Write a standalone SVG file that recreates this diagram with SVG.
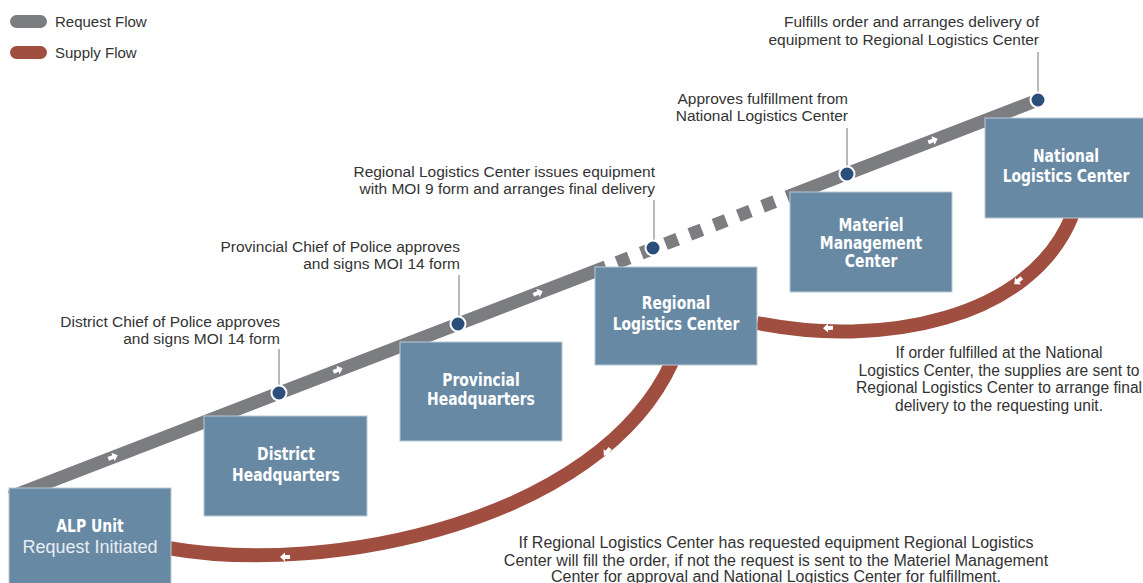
<svg xmlns="http://www.w3.org/2000/svg" width="1143" height="583" viewBox="0 0 1143 583">
  <style>
    .box { fill: #6889a4; stroke: #b9cad8; stroke-width: 1; }
    .title { font-family: "Liberation Sans Narrow", "DejaVu Sans Condensed", "Liberation Sans", sans-serif; font-weight: bold; font-size: 17px; fill: #ffffff; text-anchor: middle; }
    .sub { font-family: "Liberation Sans", Arial, sans-serif; font-size: 18px; fill: #e8eef3; text-anchor: middle; }
    .note { font-family: "Liberation Sans", Arial, sans-serif; font-size: 15.5px; fill: #333333; }
    .para { font-family: "Liberation Sans", Arial, sans-serif; font-size: 16px; fill: #333333; text-anchor: middle; }
    .para.small { font-size: 15.6px; }
    .right { text-anchor: end; }
    .legend { font-family: "Liberation Sans", Arial, sans-serif; font-size: 15px; fill: #333333; }
    .request { fill: none; stroke: #7c7d81; stroke-width: 13; }
    .supply { fill: none; stroke: #a04e40; stroke-width: 14; }
    .leader { stroke: #8a8a8a; stroke-width: 1.2; }
    .dot { fill: #2b4f7a; stroke: #ffffff; stroke-width: 2; }
    .tick { fill: #ffffff; }
  </style>
  <defs>
    <!-- small block arrow pointing along +x, centred on the origin -->
    <polygon id="flow-arrow" points="-5,-2 0,-2 0,-4.5 5,0 0,4.5 0,2 -5,2"/>
  </defs>

  <!-- legend -->
  <g id="legend">
    <rect x="10" y="15" width="37" height="13" rx="6.5" fill="#7c7d81"/>
    <text class="legend" x="55" y="27">Request Flow</text>
    <rect x="10" y="46" width="37" height="13" rx="6.5" fill="#a04e40"/>
    <text class="legend" x="55" y="58">Supply Flow</text>
  </g>

  <!-- flow bands -->
  <g id="connectors">
    <path class="request" d="M10,497 L606,266.9"/>
    <path class="request" d="M617,262.5 L786,197.3" stroke-dasharray="13 13"/>
    <path class="request" d="M787,196.9 L1038,100"/>
    <path class="supply" d="M168,548 C330,577 600,520 672,362"/>
    <path class="supply" d="M757,323 C880,348 1030,320 1072,216"/>
    <!-- direction marks on the request band -->
    <use href="#flow-arrow" class="tick" transform="translate(113,457) rotate(-21.1)"/>
    <use href="#flow-arrow" class="tick" transform="translate(338,370) rotate(-21.1)"/>
    <use href="#flow-arrow" class="tick" transform="translate(538,293) rotate(-21.1)"/>
    <use href="#flow-arrow" class="tick" transform="translate(933,140.5) rotate(-21.1)"/>
    <!-- direction marks on the supply bands -->
    <use href="#flow-arrow" class="tick" transform="translate(285,557) rotate(180)"/>
    <use href="#flow-arrow" class="tick" transform="translate(607,452) rotate(130)"/>
    <use href="#flow-arrow" class="tick" transform="translate(828,328) rotate(178)"/>
    <use href="#flow-arrow" class="tick" transform="translate(1018,281) rotate(140)"/>
  </g>

  <!-- nodes -->
  <g id="alp-unit">
    <rect class="box" x="9" y="488" width="162" height="110"/>
    <text class="title" transform="translate(90,532) scale(0.91,1)">ALP Unit</text>
    <text class="sub" x="90" y="553">Request Initiated</text>
  </g>
  <g id="district-hq">
    <rect class="box" x="204" y="416" width="163" height="100"/>
    <text class="title" transform="translate(286,460) scale(0.91,1)">District</text>
    <text class="title" transform="translate(286,481) scale(0.91,1)">Headquarters</text>
  </g>
  <g id="provincial-hq">
    <rect class="box" x="400" y="342" width="162" height="99"/>
    <text class="title" transform="translate(481,386) scale(0.91,1)">Provincial</text>
    <text class="title" transform="translate(481,405) scale(0.91,1)">Headquarters</text>
  </g>
  <g id="regional-lc">
    <rect class="box" x="595" y="267" width="162" height="98"/>
    <text class="title" transform="translate(676,309) scale(0.91,1)">Regional</text>
    <text class="title" transform="translate(676,330) scale(0.91,1)">Logistics Center</text>
  </g>
  <g id="materiel-mc">
    <rect class="box" x="790" y="192" width="162" height="100"/>
    <text class="title" transform="translate(871,231) scale(0.91,1)">Materiel</text>
    <text class="title" transform="translate(871,249) scale(0.91,1)">Management</text>
    <text class="title" transform="translate(871,267) scale(0.91,1)">Center</text>
  </g>
  <g id="national-lc">
    <rect class="box" x="985" y="118" width="165" height="100"/>
    <text class="title" transform="translate(1066,162) scale(0.91,1)">National</text>
    <text class="title" transform="translate(1066,182) scale(0.91,1)">Logistics Center</text>
  </g>

  <!-- step annotations with leaders and markers -->
  <g id="step-district">
    <line class="leader" x1="279" y1="349" x2="279" y2="390"/>
    <circle class="dot" cx="279" cy="393" r="7.5"/>
    <text class="note right" x="280" y="327">District Chief of Police approves</text>
    <text class="note right" x="280" y="344">and signs MOI 14 form</text>
  </g>
  <g id="step-provincial">
    <line class="leader" x1="459" y1="275" x2="459" y2="321"/>
    <circle class="dot" cx="458" cy="324" r="7.5"/>
    <text class="note right" x="460" y="252">Provincial Chief of Police approves</text>
    <text class="note right" x="460" y="269">and signs MOI 14 form</text>
  </g>
  <g id="step-regional">
    <line class="leader" x1="654" y1="200" x2="654" y2="245"/>
    <circle class="dot" cx="653" cy="248" r="7.5"/>
    <text class="note right" x="655" y="177">Regional Logistics Center issues equipment</text>
    <text class="note right" x="655" y="194">with MOI 9 form and arranges final delivery</text>
  </g>
  <g id="step-materiel">
    <line class="leader" x1="847" y1="128" x2="847" y2="171"/>
    <circle class="dot" cx="847" cy="174" r="7.5"/>
    <text class="note right" x="848" y="104">Approves fulfillment from</text>
    <text class="note right" x="848" y="121">National Logistics Center</text>
  </g>
  <g id="step-national">
    <line class="leader" x1="1038" y1="52" x2="1038" y2="97"/>
    <circle class="dot" cx="1038" cy="100" r="7.5"/>
    <text class="note right" x="1039" y="27">Fulfills order and arranges delivery of</text>
    <text class="note right" x="1039" y="45">equipment to Regional Logistics Center</text>
  </g>

  <!-- explanatory notes on the supply flow -->
  <g id="note-national">
    <text class="para small" x="999" y="358">If order fulfilled at the National</text>
    <text class="para small" x="999" y="376">Logistics Center, the supplies are sent to</text>
    <text class="para small" x="999" y="393">Regional Logistics Center to arrange final</text>
    <text class="para small" x="999" y="411">delivery to the requesting unit.</text>
  </g>
  <g id="note-regional">
    <text class="para" x="776" y="548">If Regional Logistics Center has requested equipment Regional Logistics</text>
    <text class="para" x="776" y="566">Center will fill the order, if not the request is sent to the Materiel Management</text>
    <text class="para" x="776" y="582">Center for approval and National Logistics Center for fulfillment.</text>
  </g>
</svg>
